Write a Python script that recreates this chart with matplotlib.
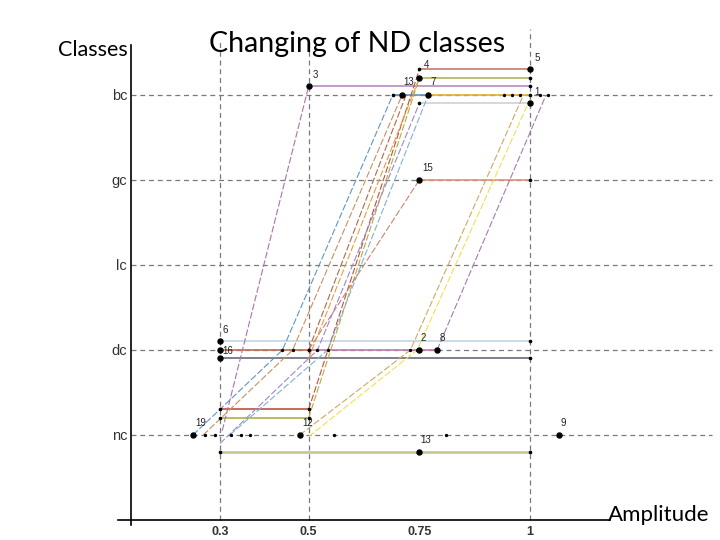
import matplotlib
matplotlib.use('Agg')
import matplotlib.pyplot as plt

classes = ['nc', 'dc', 'lc', 'gc', 'bc']
class_levels = [1, 2, 3, 4, 5]
amplitudes = [0.3, 0.5, 0.75, 1]
amp_labels = ['0.3', '0.5', '0.75', '1']

# horizontal parts (object stays in one class between two amplitudes)
stay_x0 = [0.75, 0.75, 0.5, 0.69, 0.77, 0.75, 0.75, 0.3, 0.3, 0.5, 0.3, 0.3, 0.3, 0.3]
stay_x1 = [1.0, 1.0, 1.0, 0.77, 1.0, 1.0, 1.0, 1.0, 0.5, 0.79, 1.0, 0.5, 0.5, 1.0]
stay_y = [5.3, 5.2, 5.1, 5.0, 5.0, 4.9, 4.0, 2.1, 2.0, 2.0, 1.9, 1.3, 1.2, 0.8]
stay_colors = ['#c8786a', '#b4b45a', '#b48cc0', '#5f96c0', '#e0b030', '#c8d2dc',
               '#e0907a', '#c4d6e2', '#c06a5a', '#c07aa8', '#6a6a78', '#c0503c',
               '#b0b040', '#c8c898']
stay_widths = [1.2, 1.2, 1.2, 1.2, 1.2, 1.2, 1.2, 1.2, 1.2, 1.2, 1.2, 1.2, 1.2, 2.0]

# dashed transitions between classes
move_x = [[0.305, 0.5], [0.5, 0.75], [0.5, 0.75],
          [0.239, 0.441, 0.69], [0.262, 0.464, 0.711], [0.30, 0.52, 0.75],
          [0.322, 0.543, 0.77], [0.5, 0.75], [0.5, 0.75],
          [0.48, 0.73, 0.985], [0.5, 0.745, 1.0], [0.79, 1.036], [0.5, 0.72]]
move_y = [[1.05, 5.1], [1.3, 5.3], [1.2, 5.2],
          [1.0, 2.0, 5.0], [1.0, 2.0, 5.0], [0.9, 2.0, 4.9],
          [1.0, 2.0, 5.0], [2.0, 4.0], [1.9, 5.2],
          [1.0, 2.0, 5.0], [0.98, 2.0, 4.95], [2.0, 5.0], [2.0, 5.0]]
move_colors = ['#b070a8', '#c0503c', '#b0b040',
               '#5f96c0', '#c89060', '#9a8ac8',
               '#80b0d8', '#d08070', '#e0a040',
               '#d0a860', '#f0e050', '#a878b0', '#b06848']

# numbered objects
pt_x = [0.5, 0.75, 1.0, 0.711, 0.77, 1.0, 0.75, 0.3, 0.3, 0.3, 0.75, 0.79, 0.239, 0.48, 0.75, 1.066]
pt_y = [5.1, 5.2, 5.3, 5.0, 5.0, 4.9, 4.0, 2.1, 2.0, 1.9, 2.0, 2.0, 1.0, 1.0, 0.8, 1.0]
pt_labels = ['3', '4', '5', '13', '7', '1', '15', '6', '16', '', '2', '8', '19', '12', '13', '9']
pt_offsets = [(3, 5), (3, 6), (3, 5), (1, 6), (2, 6), (3, 5), (2, 5), (2, 5), (2, -1),
              (0, 0), (1, 5), (2, 5), (2, 5), (2, 5), (1, 5), (1, 5)]

# small tick dots along some class lines
dot_x = [0.941, 0.959, 0.977, 1.022, 1.04, 0.266, 0.289, 0.325, 0.348, 0.368, 0.558, 0.81]
dot_y = [5.0, 5.0, 5.0, 5.0, 5.0, 1.0, 1.0, 1.0, 1.0, 1.0, 1.0, 1.0]

fig = plt.figure(figsize=(7.2, 5.4), dpi=100)
ax = fig.add_axes([0, 0, 1, 1])
ax.set_xlim(-0.1966, 1.4287)
ax.set_ylim(-0.2353, 6.1176)

grid_style = dict(colors='#7a7a7a', linestyles=(0, (4, 3)), linewidth=0.9, zorder=1)
ax.hlines(class_levels, 0.1, 1.41, **grid_style)
ax.vlines([0.3, 0.5], 0, 5.62, **grid_style)
ax.vlines(1.0, 0, 5.78, **grid_style)

for x0, x1, y, c, w in zip(stay_x0, stay_x1, stay_y, stay_colors, stay_widths):
    ax.plot([x0, x1], [y, y], color=c, lw=w, zorder=2, solid_capstyle='butt')
    ax.plot([x0, x1], [y, y], 'o', color='black', ms=1.6, zorder=4)

for xs, ys, c in zip(move_x, move_y, move_colors):
    ax.plot(xs, ys, color=c, lw=0.8, ls=(0, (6, 2)), zorder=3)
    ax.plot(xs[1:-1], ys[1:-1], 'o', color='black', ms=1.4, zorder=4)

ax.plot(dot_x, dot_y, 'o', color='black', ms=1.4, zorder=4)
ax.plot(pt_x, pt_y, 'o', color='black', ms=3.6, zorder=5)
for x, y, lab, off in zip(pt_x, pt_y, pt_labels, pt_offsets):
    if lab:
        ax.annotate(lab, (x, y), xytext=off, textcoords='offset points',
                    fontsize=7, family='Liberation Sans', color='#222222',
                    ha='left', va='bottom' if off[1] > 0 else 'center')

for side in ['top', 'right']:
    ax.spines[side].set_visible(False)
ax.spines['left'].set_position(('data', 0.1))
ax.spines['left'].set_bounds(-0.06, 5.59)
ax.spines['bottom'].set_position(('data', 0.0))
ax.spines['bottom'].set_bounds(0.07, 1.18)
ax.spines['left'].set_linewidth(1.2)
ax.spines['bottom'].set_linewidth(1.2)

ax.set_xticks(amplitudes, amp_labels)
ax.set_yticks(class_levels, classes)
ax.tick_params(axis='x', length=0, pad=4, labelsize=9, labelcolor='#333333')
ax.tick_params(axis='y', length=0, pad=3, labelsize=10.5, labelcolor='#333333')
for lab in ax.get_xticklabels() + ax.get_yticklabels():
    lab.set_family('Liberation Sans')
for lab in ax.get_xticklabels():
    lab.set_fontweight('bold')

fig.text(357 / 720, 1 - 44 / 540, 'Changing of ND classes', ha='center', va='center',
         fontsize=20.5, family='Lato')
fig.text(128 / 720, 1 - 50 / 540, 'Classes', ha='right', va='center',
         fontsize=15.5, family='Lato')
fig.text(608 / 720, 1 - 515 / 540, 'Amplitude', ha='left', va='center',
         fontsize=16, family='Lato')

fig.savefig('out.png', dpi=100)
